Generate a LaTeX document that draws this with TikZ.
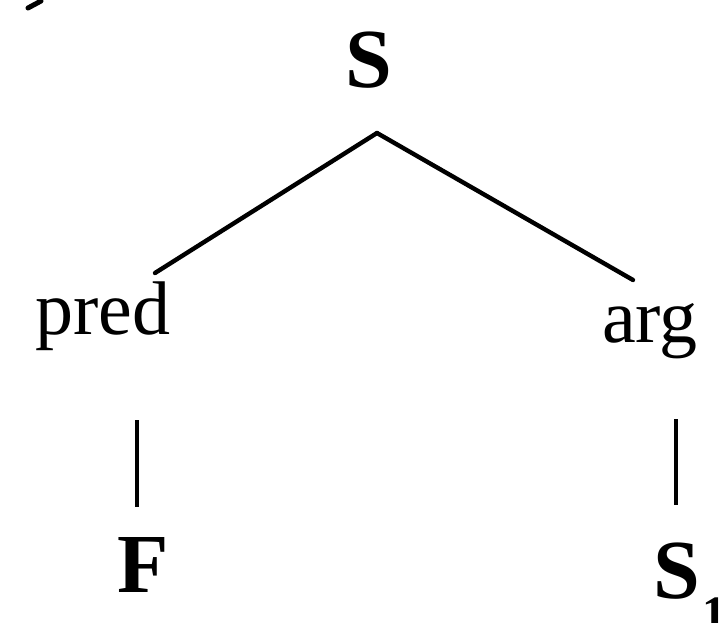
\documentclass[tikz,border=0pt]{standalone}
\usepackage{fontspec}
\setmainfont{Liberation Serif}
\begin{document}
\begin{tikzpicture}[x=1pt,y=1pt,
  lbl/.style={inner sep=0pt,anchor=base},
  edge/.style={line width=4.4pt,line cap=round},
  bigbold/.style={lbl,font=\fontsize{84}{84}\selectfont\bfseries},
  reg/.style={lbl,font=\fontsize{76}{76}\selectfont}]
\useasboundingbox (0,0) rectangle (720,-623);
% cropped glyph fragment at top-left
\draw[line width=5pt,line cap=round] (28,-8) -- (41,-1);
\node[bigbold] (S) at (369,-88) {S};
\node[reg] (pred) at (103,-334) {pred};
\node[reg] (arg) at (650,-342) {arg};
\node[bigbold] (F) at (143,-592) {F};
\node[bigbold,anchor=base west] (S1) at (653,-598) {S\kern3pt\raisebox{-31pt}{\fontsize{48}{48}\selectfont 1}};
\coordinate (apex) at (377,-133);
\coordinate (predtop) at (155,-273);
\coordinate (argtop) at (633,-280);
\coordinate (predbot) at (137,-420);
\coordinate (Ftop) at (137,-507);
\coordinate (argbot) at (676,-419);
\coordinate (S1top) at (676,-505);
\draw[edge] (apex) -- (predtop);
\draw[edge] (apex) -- (argtop);
\draw[edge,line cap=butt] (predbot) -- (Ftop);
\draw[edge,line cap=butt] (argbot) -- (S1top);
\end{tikzpicture}
\end{document}
